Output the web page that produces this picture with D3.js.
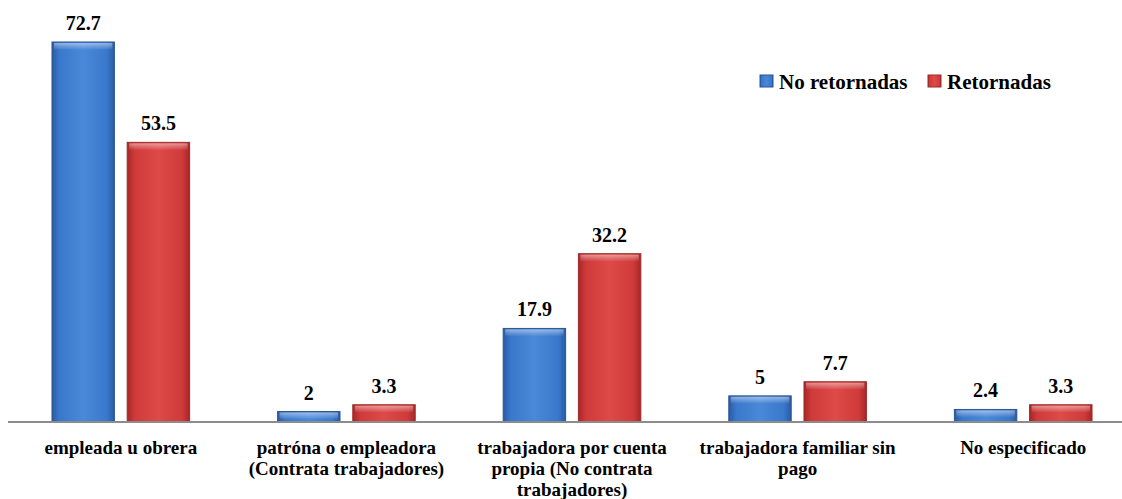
<!DOCTYPE html>
<html>
<head>
<meta charset="utf-8">
<script src="https://cdn.jsdelivr.net/npm/d3@7"></script>
<style>
  body { margin: 0; background: #fff; }
</style>
</head>
<body>
<div id="chart"></div>
<script>
// data
var categories = [
  ["empleada u obrera"],
  ["patróna o empleadora", "(Contrata trabajadores)"],
  ["trabajadora por cuenta", "propia (No contrata", "trabajadores)"],
  ["trabajadora familiar sin", "pago"],
  ["No especificado"]
];
var seriesNames = ["No retornadas", "Retornadas"];
var noRetornadas = [72.7, 2, 17.9, 5, 2.4];
var retornadas = [53.5, 3.3, 32.2, 7.7, 3.3];

var width = 1122, height = 499;
var baseY = 422;

var svg = d3.select("#chart").append("svg")
    .attr("width", width)
    .attr("height", height);

// gradients for the beveled bar look
var defs = svg.append("defs");
function addGrad(id, dark, mid, light) {
  var g = defs.append("linearGradient").attr("id", id)
      .attr("x1", "0%").attr("x2", "100%").attr("y1", "0%").attr("y2", "0%");
  g.append("stop").attr("offset", "0%").attr("stop-color", dark);
  g.append("stop").attr("offset", "12%").attr("stop-color", mid);
  g.append("stop").attr("offset", "50%").attr("stop-color", light);
  g.append("stop").attr("offset", "88%").attr("stop-color", mid);
  g.append("stop").attr("offset", "100%").attr("stop-color", dark);
  var t = defs.append("linearGradient").attr("id", id + "Top")
      .attr("x1", "0%").attr("x2", "0%").attr("y1", "0%").attr("y2", "100%");
  t.append("stop").attr("offset", "0%").attr("stop-color", "#fff").attr("stop-opacity", 0.45);
  t.append("stop").attr("offset", "100%").attr("stop-color", "#fff").attr("stop-opacity", 0);
}
addGrad("gBlue", "#2a5ba3", "#3a78cc", "#4a88d8");
addGrad("gRed", "#a82626", "#cf3a3a", "#de4a48");
var fills = ["url(#gBlue)", "url(#gRed)"];
var strokes = ["#2c5590", "#9a2a2a"];

var x0 = d3.scaleBand()
    .domain(d3.range(categories.length))
    .range([8, 1136])
    .paddingInner(0.39)
    .paddingOuter(0.195);

var x1 = d3.scaleBand()
    .domain([0, 1])
    .range([0, x0.bandwidth()])
    .paddingInner(0.17);

var y = d3.scaleLinear()
    .domain([0, 72.7])
    .range([baseY, 42]);

var rows = categories.map(function(c, i) {
  return [noRetornadas[i], retornadas[i]];
});

var groups = svg.selectAll(".grp")
    .data(rows)
    .enter().append("g")
    .attr("class", "grp")
    .attr("transform", function(d, i) { return "translate(" + x0(i) + ",0)"; });

groups.selectAll("rect.bar")
    .data(function(d) { return d; })
    .enter().append("rect")
    .attr("class", "bar")
    .attr("x", function(d, j) { return x1(j); })
    .attr("y", function(d) { return y(d); })
    .attr("width", x1.bandwidth())
    .attr("height", function(d) { return baseY - y(d); })
    .attr("fill", function(d, j) { return fills[j]; })
    .attr("stroke", function(d, j) { return strokes[j]; })
    .attr("stroke-width", 1);

// top bevel highlight
groups.selectAll("rect.hl")
    .data(function(d) { return d; })
    .enter().append("rect")
    .attr("class", "hl")
    .attr("x", function(d, j) { return x1(j) + 2; })
    .attr("y", function(d) { return y(d) + 1; })
    .attr("width", x1.bandwidth() - 4)
    .attr("height", function(d) { return Math.min(7, baseY - y(d) - 2); })
    .attr("fill", function(d, j) { return j === 0 ? "url(#gBlueTop)" : "url(#gRedTop)"; });

groups.selectAll("text.val")
    .data(function(d) { return d; })
    .enter().append("text")
    .attr("class", "val")
    .attr("x", function(d, j) { return x1(j) + x1.bandwidth() / 2; })
    .attr("y", function(d) { return y(d) - 12; })
    .attr("text-anchor", "middle")
    .attr("font-family", "Liberation Serif")
    .attr("font-weight", "bold")
    .attr("font-size", "20px")
    .text(function(d) { return d; });

// baseline
svg.append("line")
    .attr("x1", 8).attr("x2", width)
    .attr("y1", baseY).attr("y2", baseY)
    .attr("stroke", "#8c8c8c")
    .attr("stroke-width", 2);

// category labels
var labels = svg.selectAll(".cat")
    .data(categories)
    .enter().append("text")
    .attr("class", "cat")
    .attr("text-anchor", "middle")
    .attr("font-family", "Liberation Serif")
    .attr("font-weight", "bold")
    .attr("font-size", "19px")
    .attr("transform", function(d, i) { return "translate(" + (x0(i) + x0.bandwidth() / 2) + ",454)"; });

labels.selectAll("tspan")
    .data(function(d) { return d; })
    .enter().append("tspan")
    .attr("x", 0)
    .attr("dy", function(d, k) { return k === 0 ? 0 : 21; })
    .text(function(d) { return d; });

// legend
var legend = svg.append("g").attr("transform", "translate(760,75)");
var legX = [0, 168];
seriesNames.forEach(function(name, j) {
  var g = legend.append("g").attr("transform", "translate(" + legX[j] + ",0)");
  g.append("rect")
      .attr("width", 13).attr("height", 12)
      .attr("fill", fills[j])
      .attr("stroke", strokes[j]);
  g.append("text")
      .attr("x", 19).attr("y", 14)
      .attr("font-family", "Liberation Serif")
      .attr("font-weight", "bold")
      .attr("font-size", "21px")
      .text(name);
});
</script>
</body>
</html>
